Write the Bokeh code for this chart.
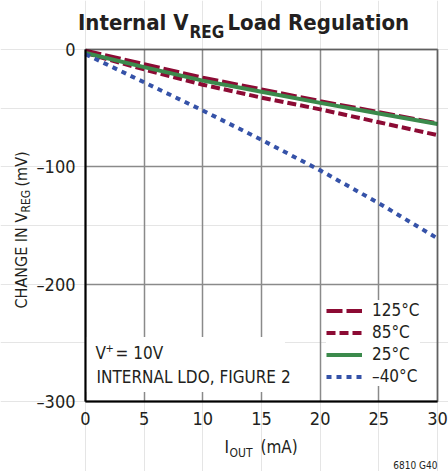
import math
from bokeh.plotting import figure
from bokeh.models import (FixedTicker, Label, Legend, LegendItem, BoxAnnotation,
                          LinearAxis, Grid)
from bokeh.embed import file_html
from bokeh.resources import INLINE

# ---- data ----
iout_ma = [0, 5, 10, 15, 20, 25, 30]
dv_125c = [-1, -12.5, -24, -34, -44, -53.5, -63]
dv_85c = [-3, -17, -30, -41, -51, -62, -73]
dv_25c = [-3, -15, -26.5, -36, -45.5, -54.5, -63.5]
dv_m40c = [-4, -28, -52, -77, -103, -131, -161]

series_labels = ["125°C", "85°C", "25°C", "–40°C"]
x_ticks = [0, 5, 10, 15, 20, 25, 30]
y_ticks = [-300, -200, -100, 0]
y_tick_labels = {-300: "–300", -200: "–200", -100: "–100", 0: "0"}
X_LIM = (0, 30)
Y_LIM = (-300, 0)

FONT = "'Liberation Sans Narrow', 'DejaVu Sans Condensed', 'Arial Narrow', sans-serif"
INK = "#231f20"
RED = "#8c0b34"
GREEN = "#3b8a4c"
BLUE = "#3552a8"

# canvas and where the chart area sits on it (px)
W, H = 448, 471
AL, AT, AS = 85, 49, 352
KX = (X_LIM[1] - X_LIM[0]) / AS
KY = (Y_LIM[1] - Y_LIM[0]) / AS

def dx(ix):   # canvas pixel -> data x
    return X_LIM[0] + (ix - AL) * KX

def dy(iy):   # canvas pixel -> data y
    return Y_LIM[1] - (iy - AT) * KY

p = figure(width=W, height=H, x_range=(dx(0), dx(W)), y_range=(dy(H), dy(0)),
           output_backend="svg", toolbar_location=None,
           x_axis_location=None, y_axis_location=None,
           min_border=0)
p.outline_line_color = None
p.background_fill_color = "white"
p.border_fill_color = "white"

xg = Grid(dimension=0, ticker=FixedTicker(ticks=x_ticks), cross_bounds=Y_LIM,
          grid_line_color="#8a8a8a", grid_line_width=1.5)
yg = Grid(dimension=1, ticker=FixedTicker(ticks=y_ticks), cross_bounds=X_LIM,
          grid_line_color="#8a8a8a", grid_line_width=1.5)
p.add_layout(xg)
p.add_layout(yg)

xa = LinearAxis(fixed_location=Y_LIM[0], bounds=X_LIM, ticker=FixedTicker(ticks=x_ticks))
ya = LinearAxis(fixed_location=X_LIM[0], bounds=Y_LIM, ticker=FixedTicker(ticks=y_ticks),
                major_label_overrides=y_tick_labels)
for ax in (xa, ya):
    ax.axis_line_color = "black"
    ax.axis_line_width = 2
    ax.major_tick_out = 0
    ax.major_tick_in = 0
    ax.minor_tick_out = 0
    ax.minor_tick_in = 0
    ax.major_label_text_font = FONT
    ax.major_label_text_font_size = "18px"
    ax.major_label_text_color = INK
xa.major_label_standoff = 10
ya.major_label_standoff = 10
p.add_layout(xa, "below")
p.add_layout(ya, "left")

# white box behind note text
p.add_layout(BoxAnnotation(left=0, right=17, top=-245, bottom=-292,
                           fill_color="white", fill_alpha=1, line_color=None,
                           level="underlay"))

r125 = p.line(iout_ma, dv_125c, line_color=RED, line_width=4, line_dash="16 4")
r85 = p.line(iout_ma, dv_85c, line_color=RED, line_width=4, line_dash="9 4")
r25 = p.line(iout_ma, dv_25c, line_color=GREEN, line_width=4)
rm40 = p.line(iout_ma, dv_m40c, line_color=BLUE, line_width=4, line_dash="5 5")

# chart border
p.add_layout(BoxAnnotation(left=X_LIM[0], right=X_LIM[1], bottom=Y_LIM[0], top=Y_LIM[1],
                           fill_alpha=0, line_color="black", line_width=2))

legend = Legend(items=[LegendItem(label=l, renderers=[r]) for l, r in
                       zip(series_labels, [r125, r85, r25, rm40])],
                location=(326, 85), margin=0, padding=8, spacing=2,
                glyph_width=36, glyph_height=17, label_height=17,
                label_standoff=10, label_text_font=FONT,
                label_text_font_size="17px", label_text_color=INK,
                border_line_color=None, background_fill_color="white",
                background_fill_alpha=1)
p.add_layout(legend)

def lab(text, ix, iy, size, bold=False, align="left", rotated=False):
    """ix, iy: canvas position of the text's start and baseline."""
    off = 0.35 * size
    if rotated:
        x, y, ang = ix - off, iy, math.pi / 2
    else:
        x, y, ang = ix, iy - off, 0.0
    p.add_layout(Label(x=dx(x), y=dy(y), text=text, text_font=FONT,
                       text_font_size=f"{size}px", text_color=INK,
                       text_font_style="bold" if bold else "normal",
                       text_align=align, text_baseline="middle", angle=ang))

# title
lab("Internal V", 188, 30, 22, bold=True, align="right")
lab("REG", 189, 37, 17, bold=True)
lab("Load Regulation", 227, 30, 22, bold=True)

# y axis label (rotated)
lab("CHANGE IN V", 27, 308, 16, rotated=True)
lab("REG", 30, 212, 12, rotated=True)
lab("(mV)", 27, 186, 16, rotated=True)

# x axis label
lab("I", 224, 452, 17)
lab("OUT", 229, 457, 12)
lab("(mA)", 260, 452, 17)

# notes
lab("V", 95, 358, 17)
lab("+", 105, 351, 11)
lab("= 10V", 115, 358, 17)
lab("INTERNAL LDO, FIGURE 2", 96, 382, 17)

lab("6810 G40", 437, 468, 10, align="right")

open("out.html", "w").write(file_html(p, INLINE))
